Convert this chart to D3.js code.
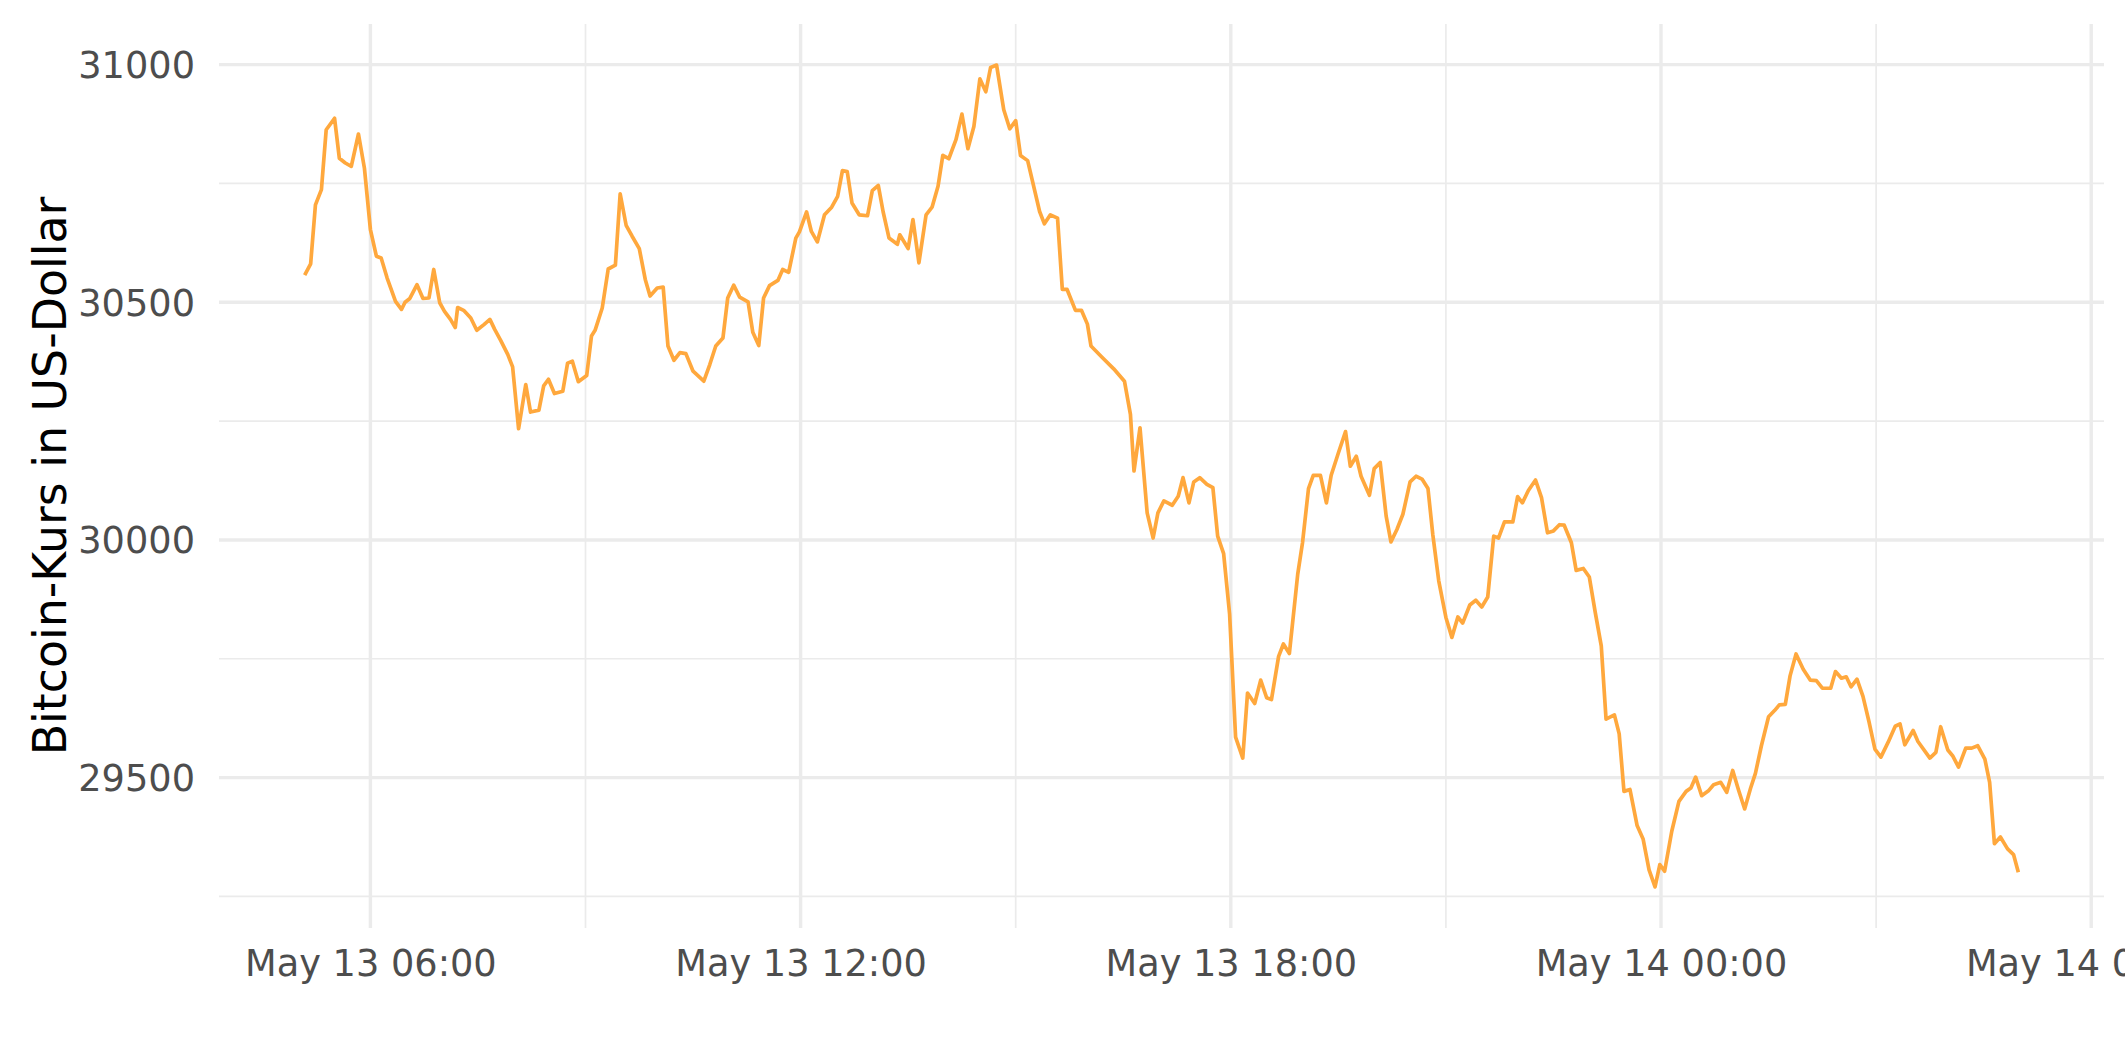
<!DOCTYPE html>
<html>
<head>
<meta charset="utf-8">
<script src="https://cdn.jsdelivr.net/npm/d3@7"></script>
<style>
  html, body { margin: 0; padding: 0; background: #ffffff; }
  svg { display: block; font-family: "DejaVu Sans", sans-serif; }
</style>
</head>
<body>
<svg id="chart" width="2125" height="1062"></svg>
<script>
// ---------------- data ----------------
const dayStart = "2022-05-13T00:00:00";
// minutes after May 13 00:00
const minutesAfterStart = [
  305,310,314,319,323,330,334,339,344,350,355,360,365,369,374,378,381,386,389,393,
  399,404,409,413,418,422,427,431,433,438,444,449,455,460,464,469,475,479,484,490,
  494,501,505,509,
  514,521,525,529,534,541,545,548,554,559,565,569,574,579,585,590,594,600,605,609,
  614,619,624,630,639,644,649,655,659,664,669,676,680,685,689,694,701,705,710,716,
  719,725,729,
  734,740,746,751,755,759,763,769,776,780,785,789,794,801,803,810,814,819,825,830,
  835,839,844,850,855,860,865,870,875,879,884,890,895,900,904,910,920,924,929,935,
  939,943,950,955,960,963,
  972,982,
  991,996,999,1004,1010,1015,1019,1024,1031,1036,1040,1045,1049,1054,1060,1065,1069,1074,1079,1084,
  1090,1094,1100,1105,1110,1114,1120,1124,1129,1136,1140,1145,1149,1155,1160,1164,1170,1176,1180,1185,
  1189,1196,1200,1205,1210,1214,1219,1224,1230,1235,1240,1245,1249,1254,1260,1265,1270,1274,1280,1285,
  1290,1295,1300,1304,1309,1316,1320,1324,1329,1335,1340,1345,1350,1355,1359,1365,1369,1375,1380,1385,
  1390,1394,1401,1405,1409,1414,
  1420,1425,1430,1435,1439,1443,1449,1455,1461,1465,1469,1474,1480,1484,1490,1495,1500,1505,1510,1515,
  1519,1524,1530,1535,1539,1544,1548,1553,1559,1565,1570,1575,1582,1586,1591,1595,1599,1604,1609,1614,
  1619,1624,1630,1636,1640,
  1644,1651,1655,1665,1670,1674,1680,1684,1689,1695,1700,1705,1711,1715,1719,1724,1730,1735,1739
];
// Bitcoin price in US-Dollar
const prices = [
  30557,30581,30705,30737,30863,30887,30803,30793,30786,30854,30782,30653,30597,30593,30551,30523,30502,30485,30500,30508,
  30537,30508,30509,30569,30499,30481,30464,30447,30489,30483,30467,30441,30453,30464,30443,30420,30390,30364,30234,30327,
  30269,30273,30324,30338,
  30308,30313,30372,30376,30333,30346,30429,30441,30488,30570,30578,30728,30662,30639,30613,30548,30513,30530,30532,30408,
  30378,30394,30392,30355,30334,30369,30408,30425,30509,30536,30511,30501,30437,30409,30509,30535,30546,30569,30563,30635,
  30648,30690,30649,
  30627,30684,30700,30723,30777,30775,30709,30684,30682,30735,30746,30691,30635,30622,30642,30613,30674,30583,30684,30700,
  30744,30809,30802,30842,30896,30823,30870,30970,30943,30994,30999,30905,30865,30882,30809,30798,30691,30665,30684,30677,
  30527,30527,30483,30483,30454,30408,
  30385,30360,
  30334,30264,30145,30236,30057,30004,30057,30082,30073,30092,30131,30078,30122,30131,30117,30110,30008,29971,29844,29585,
  29541,29678,29656,29705,29668,29664,29755,29781,29761,29928,29994,30108,30136,30136,30078,30136,30183,30228,30155,30176,
  30134,30094,30150,30163,30050,29996,30022,30054,30122,30134,30128,30108,30012,29914,29837,29795,29838,29825,29863,29873,
  29859,29880,30008,30004,30038,30038,30091,30078,30104,30126,30089,30015,30019,30032,30031,29994,29936,29940,29922,29847,
  29777,29623,29632,29592,29471,29475,
  29399,29371,29306,29270,29317,29303,29387,29450,29471,29478,29501,29462,29473,29485,29490,29469,29515,29473,29434,29478,
  29509,29567,29628,29641,29653,29654,29714,29760,29728,29705,29704,29688,29688,29723,29709,29712,29691,29707,29671,29618,
  29560,29543,29574,29608,29613,
  29569,29599,29576,29541,29553,29607,29558,29546,29522,29562,29562,29567,29539,29490,29361,29375,29350,29338,29301
];
const yTickValues = [29500, 30000, 30500, 31000];
const xTickTimes = ["2022-05-13T06:00:00", "2022-05-13T12:00:00", "2022-05-13T18:00:00",
                    "2022-05-14T00:00:00", "2022-05-14T06:00:00"];
const yTitle = "Bitcoin-Kurs in US-Dollar";

// ---------------- layout ----------------
const W = 2125, H = 1062;
const panel = { left: 219, right: 2104, top: 24, bottom: 928 };
const lineColor = "#FFA83D";
const gridColor = "#EBEBEB";
const textColor = "#4D4D4D";

const parse = d3.isoParse;
const base = parse(dayStart);
const data = minutesAfterStart.map((m, i) => ({
  t: new Date(base.getTime() + m * 60000),
  v: prices[i]
}));

// ggplot-style 5% expansion
function expand(ext, f) {
  const a = +ext[0], b = +ext[1], d = (b - a) * f;
  return [a - d, b + d];
}
const tExt = expand(d3.extent(data, d => d.t), 0.05);
const vExt = expand(d3.extent(data, d => d.v), 0.05);

const x = d3.scaleTime()
  .domain([new Date(tExt[0]), new Date(tExt[1])])
  .range([panel.left, panel.right]);
const y = d3.scaleLinear()
  .domain(vExt)
  .range([panel.bottom, panel.top]);

const svg = d3.select("#chart");
svg.append("rect").attr("width", W).attr("height", H).attr("fill", "#ffffff");

// minor grid
const xMajor = xTickTimes.map(parse);
const xMinor = d3.timeHour.every(3).range(x.domain()[0], x.domain()[1])
  .filter(d => d.getHours() % 6 === 3);
const yMinor = d3.range(0, yTickValues.length + 1).map(i => yTickValues[0] - 250 + i * 500)
  .filter(v => v >= vExt[0] && v <= vExt[1]);

const grid = svg.append("g");
grid.selectAll(".ymin").data(yMinor).join("line")
  .attr("x1", panel.left).attr("x2", panel.right)
  .attr("y1", d => y(d)).attr("y2", d => y(d))
  .attr("stroke", gridColor).attr("stroke-width", 1.7);
grid.selectAll(".xmin").data(xMinor).join("line")
  .attr("x1", d => x(d)).attr("x2", d => x(d))
  .attr("y1", panel.top).attr("y2", panel.bottom)
  .attr("stroke", gridColor).attr("stroke-width", 1.7);

// major grid
grid.selectAll(".ymaj").data(yTickValues).join("line")
  .attr("x1", panel.left).attr("x2", panel.right)
  .attr("y1", d => y(d)).attr("y2", d => y(d))
  .attr("stroke", gridColor).attr("stroke-width", 3.4);
grid.selectAll(".xmaj").data(xMajor).join("line")
  .attr("x1", d => x(d)).attr("x2", d => x(d))
  .attr("y1", panel.top).attr("y2", panel.bottom)
  .attr("stroke", gridColor).attr("stroke-width", 3.4);

// axes via d3 axis generators (no domain, no tick marks)
const fmt = d3.timeFormat("%b %d %H:%M");
const xAxis = d3.axisBottom(x).tickValues(xMajor).tickFormat(fmt).tickSize(0).tickPadding(0);
const gx = svg.append("g").attr("transform", `translate(0,${panel.bottom})`).call(xAxis);
gx.select(".domain").remove();
gx.selectAll("text")
  .attr("y", 48).attr("dy", 0)
  .attr("fill", textColor)
  .style("font-family", "'DejaVu Sans', sans-serif")
  .style("font-size", "36.7px");

const yAxis = d3.axisLeft(y).tickValues(yTickValues).tickFormat(d3.format("d")).tickSize(0).tickPadding(0);
const gy = svg.append("g").attr("transform", `translate(${panel.left},0)`).call(yAxis);
gy.select(".domain").remove();
gy.selectAll("text")
  .attr("x", -24).attr("dy", "0.35em")
  .attr("fill", textColor)
  .style("font-family", "'DejaVu Sans', sans-serif")
  .style("font-size", "36.7px");

// y title
svg.append("text")
  .attr("transform", `translate(66,${(panel.top + panel.bottom) / 2}) rotate(-90)`)
  .attr("text-anchor", "middle")
  .attr("fill", "#000000")
  .style("font-family", "'DejaVu Sans', sans-serif")
  .style("font-size", "45.8px")
  .text(yTitle);

// line
const line = d3.line().x(d => x(d.t)).y(d => y(d.v));
svg.append("path")
  .datum(data)
  .attr("d", line)
  .attr("fill", "none")
  .attr("stroke", lineColor)
  .attr("stroke-width", 3.7)
  .attr("stroke-linejoin", "round");
</script>
</body>
</html>
